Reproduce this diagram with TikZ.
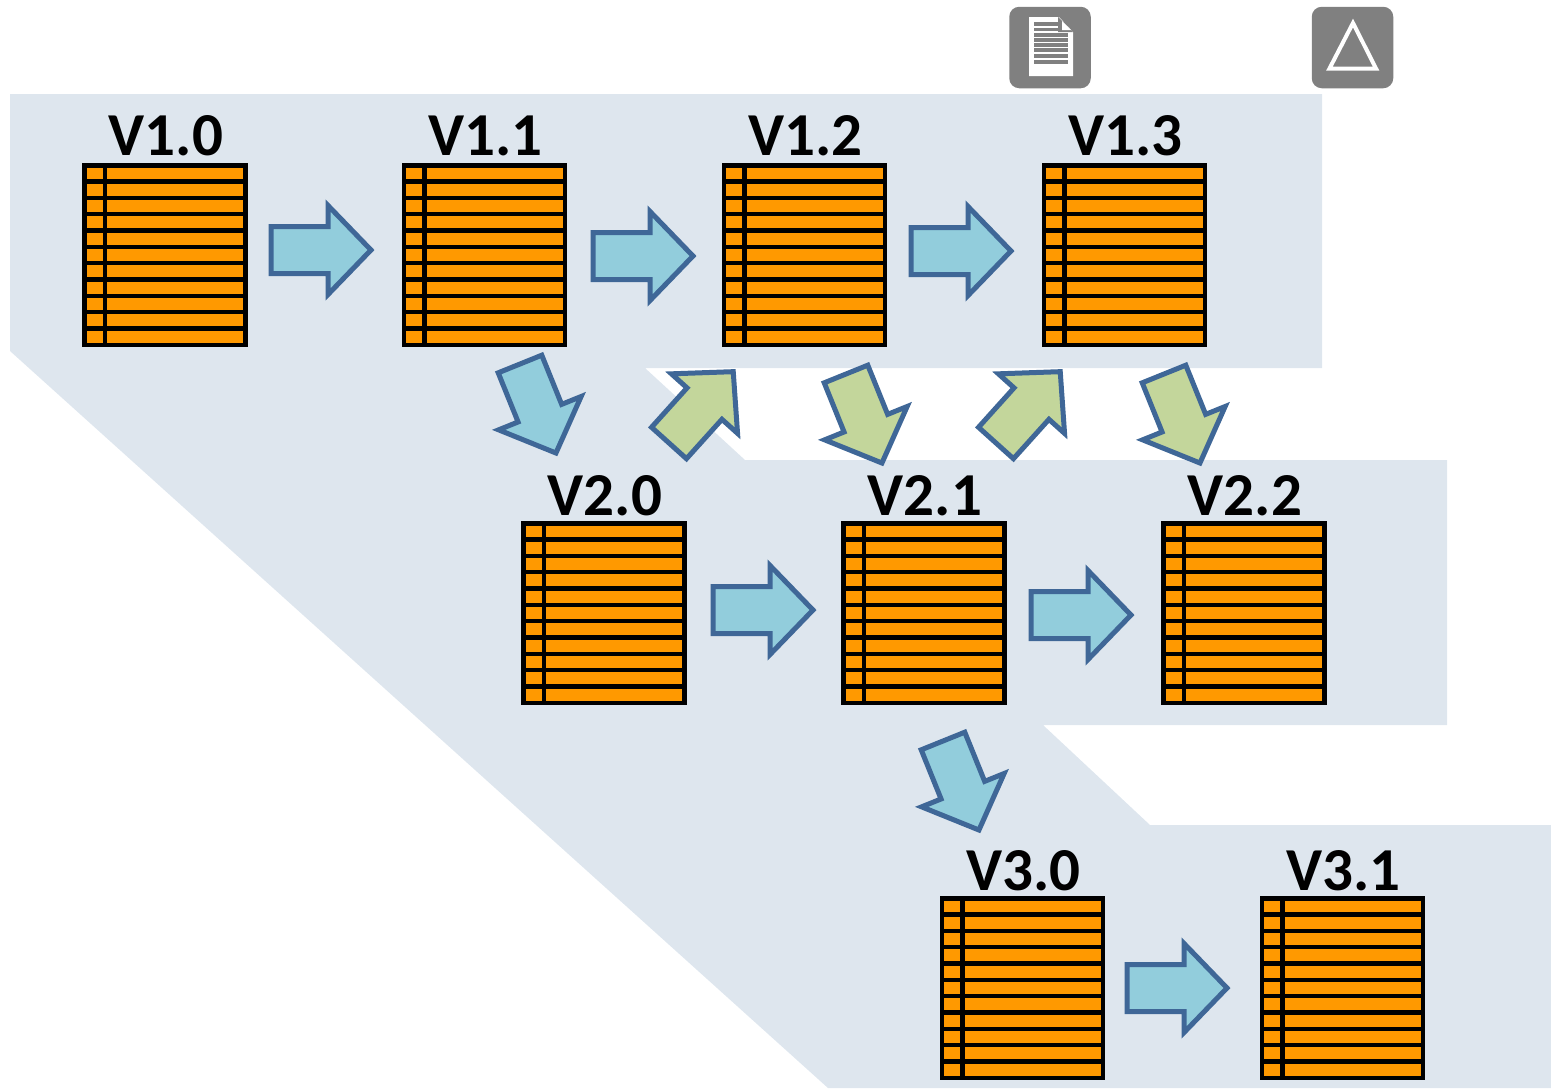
\documentclass[tikz,border=0pt]{standalone}
\usepackage{fontspec}
\setmainfont{Carlito}
\usetikzlibrary{shapes.arrows}
\definecolor{bandc}{HTML}{DEE6EE}
\definecolor{cellc}{HTML}{FF9900}
\definecolor{bluec}{HTML}{92CDDC}
\definecolor{greenc}{HTML}{C3D69B}
\definecolor{edgec}{HTML}{3F6797}
\definecolor{iconc}{HTML}{808080}
\tikzset{
  band/.style={fill=bandc,draw=none},
  vertable/.style={rectangle,draw=black,line width=4.5pt,fill=cellc,inner sep=0pt,outer sep=0pt,
    minimum width=161pt,minimum height=179.5pt,
    path picture={
      \foreach \i in {1,...,10}{
        \draw[black,line width=4.2pt]
          ([yshift=-\i*16.32pt]path picture bounding box.north west) --
          ([yshift=-\i*16.32pt]path picture bounding box.north east);}
      \draw[black,line width=4.5pt]
          ([xshift=20.5pt]path picture bounding box.north west) --
          ([xshift=20.5pt]path picture bounding box.south west);
    }},
  verlabel/.style={anchor=base,inner sep=0pt,font=\fontsize{61}{62}\selectfont\bfseries},
  barrow/.style={single arrow,draw=edgec,line width=5pt,line join=miter,anchor=tail,
    inner xsep=0pt,inner ysep=21pt,outer sep=0pt,minimum height=100pt,
    single arrow head extend=21pt,single arrow tip angle=92},
  diagA/.style={minimum height=96pt},
  blueA/.style={barrow,fill=bluec},
  greenA/.style={barrow,fill=greenc},
  iconbox/.style={rectangle,rounded corners=10pt,fill=iconc,minimum width=81.5pt,minimum height=81.5pt,inner sep=0pt,outer sep=0pt},
}
\begin{document}
\begin{tikzpicture}[x=1pt,y=-1pt]
\useasboundingbox (0,0) rectangle (1551,1088);
\fill[band] (10,94) -- (1322,94) -- (1322,368) -- (645,368) -- (745,460) -- (1447,460) -- (1447,725)
  -- (1043,725) -- (1150,825) -- (1551,825) -- (1551,1088) -- (828,1088) -- (10,351) -- cycle;

% icons
\node[iconbox] (docicon) at (1050,47.5) {};
\fill[white] (1029,17) -- (1059,17) -- (1073,32) -- (1073,76) -- (1029,76) -- cycle;
\foreach \y in {24,29.5,35,40,45,50,56,62}
  \fill[iconc] (1034,\y-1.7) rectangle (1068,\y+1.7);
\fill[iconc] (1058,17) -- (1073,32) -- (1058,32) -- cycle;
\fill[white] (1062,21) -- (1071,30) -- (1062,30) -- cycle;
\node[iconbox] (deltaicon) at (1352.5,47.5) {};
\draw[white,line width=4pt,line join=miter] (1353,23) -- (1376,68.5) -- (1329.5,68.5) -- cycle;

% version tables
\foreach \n/\x/\y/\ly/\t in {a/165/255/155/V1.0,b/484.5/255/155/V1.1,c/804.5/255/155/V1.2,d/1124.5/255/155/V1.3,
    e/604/613/515/V2.0,f/924/613/515/V2.1,g/1244/613/515/V2.2,h/1022.5/988/890/V3.0,i/1342.5/988/890/V3.1}{
  \node[vertable] (tab\n) at (\x,\y) {};
  \node[verlabel] (lab\n) at (\x+1,\ly) {\t};
}

% horizontal block arrows
\node[blueA] (ab) at (271,250) {};
\node[blueA] (bc) at (593,256) {};
\node[blueA] (cd) at (911,251) {};
\node[blueA] (ef) at (713,610) {};
\node[blueA] (fg) at (1031,615) {};
\node[blueA] (hi) at (1127,988) {};

% diagonal block arrows
\node[blueA,diagA,rotate=-68] (be) at (520,364) {};
\node[blueA,diagA,rotate=-68] (fh) at (943,741) {};
\node[greenA,diagA,rotate=48] (ec) at (669,443) {};
\node[greenA,diagA,rotate=-68] (cf) at (846,374) {};
\node[greenA,diagA,rotate=48] (fd) at (996,443) {};
\node[greenA,diagA,rotate=-68] (dg) at (1164,374) {};
\end{tikzpicture}
\end{document}
